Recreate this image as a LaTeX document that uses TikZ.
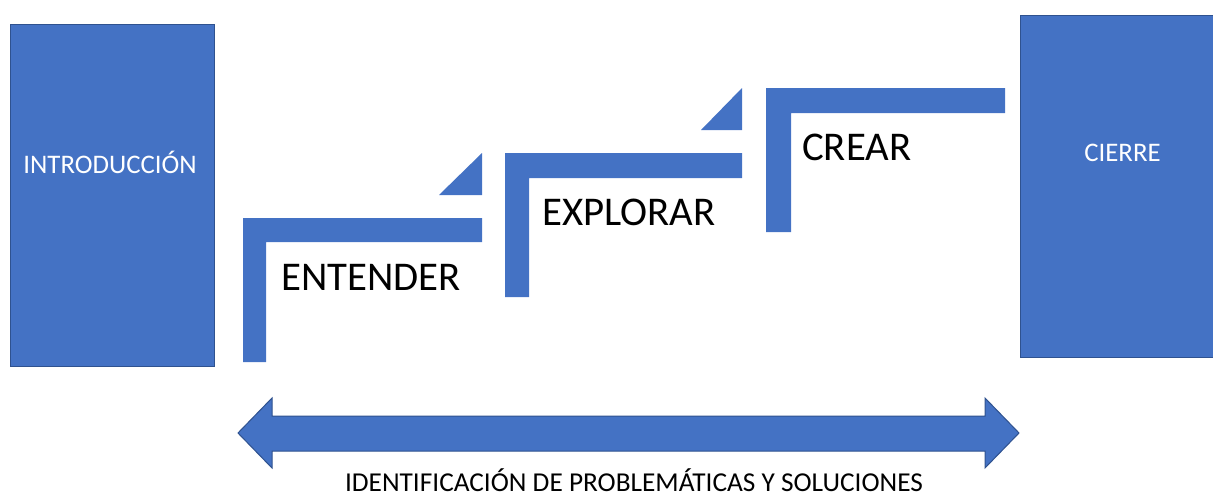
\documentclass[tikz,border=0pt]{standalone}
\usepackage{fontspec}
\setmainfont{Carlito}
\definecolor{acc}{HTML}{4472C4}
\definecolor{accdark}{HTML}{2F528F}
\tikzset{
  boxshape/.style={fill=acc, draw=accdark, line width=1pt},
  stepshape/.style={fill=acc},
  boxtext/.style={text=white, inner sep=0pt, anchor=base, font=\fontsize{26.8}{30}\selectfont},
  steptext/.style={text=black, inner sep=0pt, anchor=base west, font=\fontsize{40.8}{46}\selectfont},
  bottomtext/.style={text=black, inner sep=0pt, anchor=base, font=\fontsize{27.3}{30}\selectfont}
}
\begin{document}
\begin{tikzpicture}[x=1pt,y=-1pt]
\useasboundingbox (0,0) rectangle (1213,493);
\clip (0,0) rectangle (1213,493);
% side boxes
\path[boxshape] (10,24) rectangle (214,366);
\path[boxshape] (1020,15) rectangle (1222,357);
\node[boxtext] (intro) at (110,173.3) {INTRODUCCIÓN};
\node[boxtext] (cierre) at (1122.5,161.7) {CIERRE};
% steps
\path[stepshape] (243,218) -- (482,218) -- (482,242) -- (266,242) -- (266,362) -- (243,362) -- cycle;
\path[stepshape] (439,195) -- (482,195) -- (482,153) -- cycle;
\path[stepshape] (505,153) -- (742,153) -- (742,178) -- (529,178) -- (529,297) -- (505,297) -- cycle;
\path[stepshape] (701,130) -- (742,130) -- (742,88) -- cycle;
\path[stepshape] (766,88) -- (1005,88) -- (1005,113) -- (791,113) -- (791,232) -- (766,232) -- cycle;
\node[steptext] (entender) at (281,290) {ENTENDER};
\node[steptext] (explorar) at (542,225) {EXPLORAR};
\node[steptext] (crear) at (802,160) {CREAR};
% double arrow
\coordinate (lt) at (238,433);
\coordinate (rt) at (1019,433);
\path[boxshape] (lt) -- (272,398) -- (272,416) -- (985,416) -- (985,398) -- (rt)
  -- (985,468) -- (985,451) -- (272,451) -- (272,468) -- cycle;
\node[bottomtext] (ident) at (634,491) {IDENTIFICACIÓN DE PROBLEMÁTICAS Y SOLUCIONES};
\end{tikzpicture}
\end{document}
